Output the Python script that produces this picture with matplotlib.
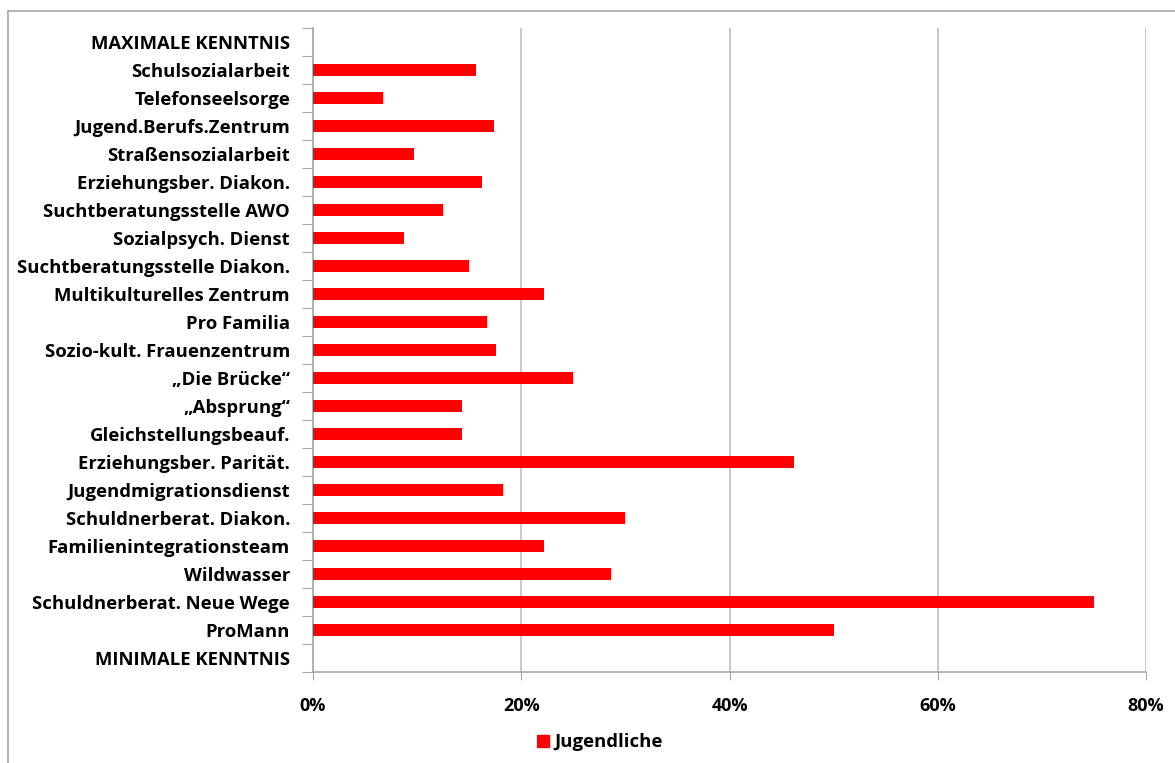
import numpy as np
import matplotlib.pyplot as plt
from matplotlib.lines import Line2D

# Kategorien von unten nach oben
kategorien = ['MINIMALE KENNTNIS', 'ProMann', 'Schuldnerberat. Neue Wege', 'Wildwasser',
              'Familienintegrationsteam', 'Schuldnerberat. Diakon.', 'Jugendmigrationsdienst',
              'Erziehungsber. Parität.', 'Gleichstellungsbeauf.', '„Absprung“', '„Die Brücke“',
              'Sozio-kult. Frauenzentrum', 'Pro Familia', 'Multikulturelles Zentrum',
              'Suchtberatungsstelle Diakon.', 'Sozialpsych. Dienst', 'Suchtberatungsstelle AWO',
              'Erziehungsber. Diakon.', 'Straßensozialarbeit', 'Jugend.Berufs.Zentrum',
              'Telefonseelsorge', 'Schulsozialarbeit', 'MAXIMALE KENNTNIS']
jugendliche = [0, 50.0, 75.0, 28.6, 22.2, 30.0, 18.2, 46.2, 14.3, 14.3, 25.0,
               17.6, 16.7, 22.2, 15.0, 8.7, 12.5, 16.2, 9.7, 17.4, 6.7, 15.7, 0]
x_ticks = [0, 20, 40, 60, 80]

plt.rcParams['font.family'] = ['Open Sans', 'DejaVu Sans']

fig = plt.figure(figsize=(11.75, 7.63), dpi=100)
ax = fig.add_axes([313 / 1175, 91 / 763, 833 / 1175, 644 / 763])

y = np.arange(len(kategorien))
ax.barh(y, jugendliche, height=0.43, color='#ff0000', zorder=3)

ax.set_xlim(0, 80)
ax.set_ylim(-0.5, len(kategorien) - 0.5)

ax.set_xticks(x_ticks)
ax.set_xticklabels([f'{v}%' for v in x_ticks], fontsize=13, fontweight='bold')
ax.tick_params(axis='x', length=6, color='#a6a6a6', pad=12)
ax.grid(axis='x', color='#bfbfbf', linewidth=1.2, zorder=0)

ax.set_yticks(np.arange(-0.5, len(kategorien)), minor=False)
ax.set_yticklabels([])
ax.tick_params(axis='y', which='major', length=8, color='#a6a6a6')
ax.set_yticks(y, minor=True)
ax.set_yticklabels(kategorien, minor=True, fontsize=13.3, fontweight='bold')
ax.tick_params(axis='y', which='minor', length=0, pad=16.5)

for s in ['top', 'right']:
    ax.spines[s].set_visible(False)
for s in ['left', 'bottom']:
    ax.spines[s].set_color('#a6a6a6')
    ax.spines[s].set_linewidth(1.2)

# Rahmen
fig.add_artist(Line2D([8 / 1175, 8 / 1175], [0, 1 - 11 / 763], color='#a6a6a6', lw=1.2))
fig.add_artist(Line2D([8 / 1175, 1], [1 - 11 / 763, 1 - 11 / 763], color='#a6a6a6', lw=1.2))

handle = Line2D([], [], marker='s', color='#ff0000', linestyle='none', markersize=9)
fig.legend([handle], ['Jugendliche'], loc='center', bbox_to_anchor=(598 / 1175, 1 - 742 / 763),
           frameon=False, prop={'weight': 'bold', 'size': 13.3}, handletextpad=0.1,
           handlelength=1.0)

fig.savefig('out.png', dpi=100)
